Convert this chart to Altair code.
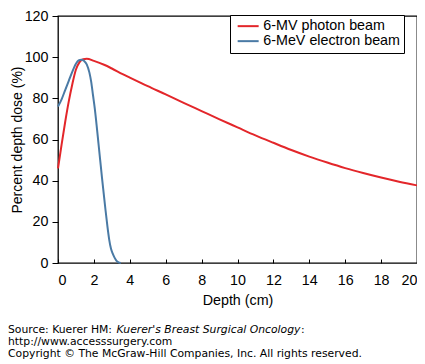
import altair as alt
import pandas as pd

beams = ["6-MV photon beam", "6-MeV electron beam"]
colors = ["#e3262a", "#4a7aa5"]

photon_depth = [0, 0.2, 0.4, 0.6, 0.8, 1.0, 1.2, 1.4, 1.6, 2.0, 2.6, 3.0, 3.6, 4, 5, 6, 7, 8, 9, 10,
                11, 12, 13, 14, 15, 16, 17, 18, 19, 20]
photon_dose = [46, 57.5, 68.5, 78.5, 87, 94, 97.6, 99, 99.2, 98.2, 96.2, 94.5, 91.8, 90.1, 85.9, 81.9,
               77.8, 73.8, 69.8, 65.9, 62.0, 58.4, 54.9, 51.7, 48.8, 46.1, 43.7, 41.5, 39.5, 37.7]

electron_depth = [0, 0.2, 0.4, 0.6, 0.8, 1.0, 1.15, 1.3, 1.45, 1.6, 1.75, 1.85, 1.95, 2.05, 2.15,
                  2.25, 2.35, 2.45, 2.55, 2.65, 2.75, 2.85, 2.95, 3.05, 3.15, 3.25, 3.35, 3.5]
electron_dose = [76, 79.5, 84, 88.5, 93, 96.8, 98.4, 98.8, 98.2, 96.5, 92.5, 88, 81.5, 75, 67,
                 58.5, 50, 41.5, 33.5, 25.5, 18, 11.5, 7, 4.5, 2.6, 1.2, 0.4, 0]

x_ticks = [0, 2, 4, 6, 8, 10, 12, 14, 16, 18, 20]
y_ticks = [0, 20, 40, 60, 80, 100, 120]

source_parts = ["Source: Kuerer HM: ", "Kuerer's Breast Surgical Oncology", ":"]
url_line = "http://www.accesssurgery.com"
copyright_line = "Copyright \u00a9 The McGraw-Hill Companies, Inc. All rights reserved."

df = pd.concat([
    pd.DataFrame({"depth": photon_depth, "dose": photon_dose, "beam": beams[0]}),
    pd.DataFrame({"depth": electron_depth, "dose": electron_dose, "beam": beams[1]}),
])

W, H = 359, 247
FONT = "Liberation Sans"
FS = 14.3

xscale = alt.Scale(domain=[0, 20], nice=False, zero=False)
yscale = alt.Scale(domain=[0, 120], nice=False)

lines = alt.Chart(df).mark_line(strokeWidth=2, interpolate="monotone").encode(
    x=alt.X("depth:Q", scale=xscale,
            axis=alt.Axis(values=x_ticks, ticks=False, domain=False, grid=False,
                          labelPadding=10, title="Depth (cm)", titlePadding=6)),
    y=alt.Y("dose:Q", scale=yscale,
            axis=alt.Axis(values=y_ticks, tickSize=6, labelPadding=4, domain=False, grid=False,
                          title="Percent depth dose (%)", titleX=-34, titleFontSize=14)),
    color=alt.Color("beam:N", sort=beams, scale=alt.Scale(domain=beams, range=colors),
                    legend=alt.Legend(title=None, orient="none", legendX=172, legendY=-1,
                                      labelFont=FONT, labelFontSize=FS, labelColor="black",
                                      labelLimit=400,
                                      symbolType="M-3,0H3", symbolSize=49, symbolStrokeWidth=2,
                                      strokeColor="black", fillColor="white",
                                      padding=4, rowPadding=0, symbolOffset=7, labelOffset=8)),
    detail="beam:N",
)

tick_layer = alt.Chart(pd.DataFrame({"depth": x_ticks})).mark_rule(opacity=0).encode(
    x=alt.X("depth:Q", scale=xscale,
            axis=alt.Axis(orient="top", offset=-H, values=x_ticks, labels=False, domain=False,
                          grid=False, title=None, tickSize=4)),
)

def txt(text, x, y, style="normal"):
    return alt.Chart(pd.DataFrame({"t": [text]})).mark_text(
        align="left", baseline="alphabetic", font="DejaVu Sans", fontSize=10.8,
        color="black", fontStyle=style,
    ).encode(text="t:N", x=alt.value(x), y=alt.value(y))

texts = [
    txt(source_parts[0], -50, 316.5),
    txt(source_parts[1], 58.5, 316.5, "italic"),
    txt(source_parts[2], 243, 316.5),
    txt(url_line, -50, 328.5),
    txt(copyright_line, -50, 340.5),
]

chart = alt.layer(lines, tick_layer, *texts).resolve_axis(x="independent").properties(
    width=W, height=H,
    padding={"left": 50, "top": 8, "right": 0, "bottom": 101},
    autosize=alt.AutoSizeParams(type="none"),
).configure_view(stroke="black", strokeWidth=1.3).configure_axis(
    labelFont=FONT, labelFontSize=FS, labelColor="black",
    titleFont=FONT, titleFontSize=FS, titleColor="black", titleFontWeight="normal",
    tickColor="black", tickWidth=1,
)

chart.save("out.html", embed_options={"renderer": "svg", "actions": False})
